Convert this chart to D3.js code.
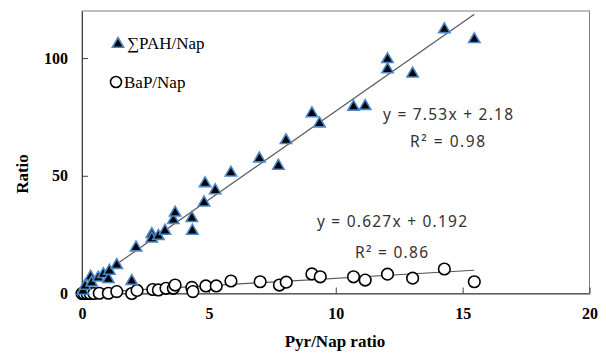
<!DOCTYPE html>
<html><head><meta charset="utf-8">
<script src="https://cdn.jsdelivr.net/npm/d3@7"></script>
<style>body{margin:0;background:#fff}</style>
</head><body><svg id="c" width="606" height="354"></svg>
<script>
const xTicks = [0, 5, 10, 15, 20];
const yTicks = [0, 50, 100];
const pahX = [0.04, 0.12, 0.34, 0.38, 0.64, 0.84, 1.04, 1.08, 1.37, 1.96, 2.13, 2.75, 2.75, 3.01, 3.27, 3.60, 3.67, 4.33, 4.35, 4.81, 4.85, 5.25, 5.87, 6.99, 7.74, 8.04, 9.06, 9.36, 10.70, 11.16, 12.04, 12.04, 13.03, 14.28, 15.46];
const pahY = [1.5, 3.6, 7.5, 5.0, 7.1, 8.6, 6.5, 10.0, 12.5, 5.7, 19.9, 25.6, 23.7, 24.8, 27.0, 31.6, 34.7, 32.4, 27.0, 39.0, 47.2, 44.2, 51.7, 57.7, 54.6, 65.5, 76.9, 72.6, 79.7, 80.0, 99.9, 95.6, 93.8, 112.6, 108.4];
const bapX = [0.0, 0.08, 0.2, 0.32, 0.47, 0.68, 1.04, 1.37, 1.96, 2.17, 2.79, 3.01, 3.31, 3.60, 3.67, 4.33, 4.37, 4.88, 5.29, 5.87, 7.02, 7.78, 8.05, 9.06, 9.39, 10.70, 11.16, 12.04, 13.03, 14.28, 15.46];
const bapY = [0.0, 0.0, 0.0, 0.0, 0.0, 0.1, 0.1, 0.8, 0.0, 1.3, 1.7, 1.5, 2.2, 2.2, 3.6, 2.6, 0.8, 3.2, 3.2, 5.3, 5.0, 3.6, 4.8, 8.3, 7.1, 7.1, 5.7, 8.2, 6.5, 10.4, 5.0];
const fitPah = {slope: 7.53, intercept: 2.18, label: "y = 7.53x + 2.18", r2: "R² = 0.98"};
const fitBap = {slope: 0.627, intercept: 0.192, label: "y = 0.627x + 0.192", r2: "R² = 0.86"};

const svg = d3.select("#c");
const x = d3.scaleLinear().domain([0, 20]).range([82, 589.5]);
const y = d3.scaleLinear().domain([0, 120]).range([293.5, 11]);
const serif = "'Liberation Serif','Times New Roman',serif";
const sans = "'Noto Sans','DejaVu Sans',sans-serif";

// frame
svg.append("rect").attr("x", x(0)).attr("y", y(120)).attr("width", x(20) - x(0)).attr("height", y(0) - y(120))
  .attr("fill", "none").attr("stroke", "#7f7f7f").attr("stroke-width", 1);

const xa = svg.append("g").attr("transform", `translate(0,${y(0)})`)
  .call(d3.axisBottom(x).tickValues(xTicks).tickSizeInner(-6).tickSizeOuter(0).tickPadding(14));
const ya = svg.append("g").attr("transform", `translate(${x(0)},0)`)
  .call(d3.axisLeft(y).tickValues(yTicks).tickSizeInner(-6).tickSizeOuter(0).tickPadding(14));
[xa, ya].forEach(a => {
  a.select(".domain").attr("stroke", "#404040");
  a.selectAll(".tick line").attr("stroke", "#404040");
  a.selectAll("text").attr("font-family", serif).attr("font-weight", "bold").attr("font-size", 16).attr("fill", "#000");
});

// trend lines
function trend(f, xs) {
  const x1 = d3.max(xs);
  svg.append("line").attr("x1", x(0)).attr("y1", y(f.intercept))
    .attr("x2", x(x1)).attr("y2", y(f.slope * x1 + f.intercept))
    .attr("stroke", "#595959").attr("stroke-width", 1.2);
}
trend(fitPah, pahX);
trend(fitBap, bapX);

// circles
svg.append("g").selectAll("circle").data(d3.range(bapX.length)).join("circle")
  .attr("cx", i => x(bapX[i])).attr("cy", i => y(bapY[i])).attr("r", 5.8)
  .attr("fill", "#fff").attr("stroke", "#000").attr("stroke-width", 1.6);

// triangles
const tri = d3.symbol().type(d3.symbolTriangle).size(55);
svg.append("g").selectAll("path").data(d3.range(pahX.length)).join("path")
  .attr("d", tri).attr("transform", i => `translate(${x(pahX[i])},${y(pahY[i]) + 1})`)
  .attr("fill", "#000").attr("stroke", "#4a86c8").attr("stroke-width", 1.6);

// legend
svg.append("path").attr("d", tri).attr("transform", "translate(118,44)")
  .attr("fill", "#000").attr("stroke", "#4a86c8").attr("stroke-width", 1.6);
svg.append("text").attr("x", 127).attr("y", 49).text("∑PAH/Nap")
  .attr("font-family", serif).attr("font-size", 17).attr("fill", "#000");
svg.append("circle").attr("cx", 116).attr("cy", 82).attr("r", 5.5)
  .attr("fill", "#fff").attr("stroke", "#000").attr("stroke-width", 1.6);
svg.append("text").attr("x", 124).attr("y", 88).text("BaP/Nap")
  .attr("font-family", serif).attr("font-size", 17).attr("fill", "#000");

// equations
function eq(t, cx, cy, w) {
  svg.append("text").attr("x", cx - w / 2).attr("y", cy).text(t)
    .attr("textLength", w).attr("lengthAdjust", "spacing")
    .attr("font-family", sans).attr("font-size", 15.5).attr("fill", "#333");
}
eq(fitPah.label, 448, 120, 130);
eq(fitPah.r2, 447.5, 147, 75);
eq(fitBap.label, 392, 227, 150);
eq(fitBap.r2, 391.5, 258, 73);

// axis titles
svg.append("text").attr("x", 335).attr("y", 347).attr("text-anchor", "middle").text("Pyr/Nap ratio")
  .attr("font-family", serif).attr("font-weight", "bold").attr("font-size", 17).attr("fill", "#000");
svg.append("text").attr("transform", "translate(28,174) rotate(-90)").attr("text-anchor", "middle").text("Ratio")
  .attr("font-family", serif).attr("font-weight", "bold").attr("font-size", 17).attr("fill", "#000");
</script></body></html>
